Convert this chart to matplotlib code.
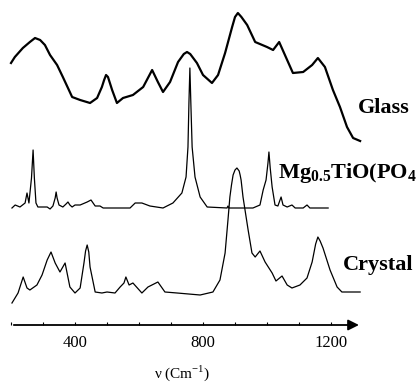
import matplotlib
matplotlib.use('Agg')
import matplotlib.pyplot as plt

plt.rcParams['font.family'] = ['Liberation Serif', 'DejaVu Serif']
plt.rcParams['mathtext.fontset'] = 'custom'
plt.rcParams['mathtext.rm'] = 'Liberation Serif'
plt.rcParams['mathtext.bf'] = 'Liberation Serif:bold'

# spectra (wavenumber in cm-1, intensity in arbitrary units)
glass_wn = [200, 212, 237, 259, 275, 291, 306, 322, 344, 362, 378, 391, 416, 447, 469,
            484, 491, 497, 503, 516, 531, 550,
            581, 613, 641, 659, 675, 697, 722, 740, 750, 760, 781, 800, 828, 847, 869,
            891, 900, 909, 920, 938, 963, 1000, 1019, 1038, 1056, 1081, 1113, 1141,
            1159, 1181, 1206, 1228, 1250, 1269, 1291]
glass_int = [61, 67, 76, 82, 86, 84, 79, 69, 59, 47, 36, 27, 24, 21, 26,
             37, 44, 49, 47, 34, 21, 26,
             29, 37, 54, 42, 32, 42, 62, 70, 72, 70, 61, 49, 41, 49, 71,
             97, 107, 111, 107, 99, 82, 77, 74, 82, 69, 51, 52, 59,
             66, 57, 34, 17, -3, -14, -17]

mg_wn = [203, 213, 228, 244, 250, 256, 264, 269, 273, 278, 284, 313, 322, 331, 338, 341,
         344, 350, 362, 372, 378, 384, 391, 400, 416, 438, 450, 463, 478, 488, 572, 588,
         609, 634, 675, 706, 734, 747, 753, 756, 759, 762, 766, 775, 791, 813, 875, 878,
         881, 956, 978, 988, 997, 1003, 1006, 1010, 1016, 1025, 1034, 1044, 1050, 1063,
         1078, 1088, 1113, 1125, 1134, 1191]
mg_int = [0, 3, 1, 5, 15, 5, 30, 58, 30, 5, 1, 1, -1, 2, 10, 16,
          10, 3, 1, 4, 6, 3, 1, 3, 3, 6, 8, 2, 2, 0, 0, 5,
          5, 2, 0, 5, 15, 31, 61, 105, 140, 105, 61, 31, 11, 1, 0, 2,
          0, 0, 3, 18, 28, 45, 56, 40, 21, 3, 2, 11, 3, 1,
          3, 0, 0, 3, 0, 0]

crystal_wn = [203, 222, 238, 250, 259, 281, 297, 313, 325, 338, 353, 369, 384, 400, 416,
              428, 433, 438, 443, 447, 463, 484, 500, 525, 541, 553, 559, 569, 581, 609,
              628, 659, 681, 719, 791, 831, 853, 869, 878, 884, 889, 894, 900, 906, 913,
              916, 919, 925, 941, 953, 963, 978, 994, 1016, 1028, 1047, 1063, 1078, 1103,
              1125, 1141, 1152, 1159, 1166, 1175, 1197, 1219, 1234, 1259, 1291]
crystal_int = [-7, 3, 19, 8, 6, 11, 21, 36, 44, 33, 24, 33, 9, 3, 8,
               33, 45, 51, 44, 29, 4, 3, 4, 3, 9, 13, 19, 11, 13, 3,
               9, 14, 4, 3, 1, 4, 16, 43, 76, 99, 111, 121, 126, 128, 125,
               121, 116, 99, 66, 43, 39, 45, 34, 23, 15, 20, 11, 8, 11,
               18, 34, 52, 59, 55, 48, 26, 9, 4, 4, 4]

offsets = {'glass': 260, 'mg': 176, 'crystal': 88}
ticks = [200, 300, 400, 500, 600, 700, 800, 900, 1000, 1100, 1200]
tick_labels = [400, 800, 1200]

fig = plt.figure(figsize=(4.16, 3.84), dpi=100)
ax = fig.add_axes([0, 0, 1, 1])
ax.set_xlim(165.6, 1465.6)
ax.set_ylim(0, 384)
ax.axis('off')

ax.plot(glass_wn, [v + offsets['glass'] for v in glass_int], color='k', lw=1.6)
ax.plot(mg_wn, [v + offsets['mg'] for v in mg_int], color='k', lw=0.9)
ax.plot(crystal_wn, [v + offsets['crystal'] for v in crystal_int], color='k', lw=0.9)

# x axis drawn as an arrow
axis_y = 59
ax.annotate('', xy=(1296, axis_y), xytext=(200, axis_y),
            arrowprops=dict(arrowstyle='-|>', color='k', lw=1.3, mutation_scale=16))
ax.vlines(ticks, axis_y, axis_y + 3, color='k', lw=0.8)
for t in tick_labels:
    ax.text(t, 41, str(t), ha='center', va='center', fontsize=12)
ax.text(735, 11, r'ν (Cm$^{\mathregular{-1}}$)', ha='center', va='center', fontsize=11)

ax.text(1284, 276, 'Glass', fontsize=16, fontweight='bold', va='center')
ax.text(1034, 211, r'Mg$_{\mathbf{0.5}}$TiO(PO$_{\mathbf{4}}$)$_{\mathbf{2}}$',
        fontsize=16, fontweight='bold', va='center')
ax.text(1237, 119, 'Crystal', fontsize=16, fontweight='bold', va='center')

fig.savefig('out.png', dpi=100)
